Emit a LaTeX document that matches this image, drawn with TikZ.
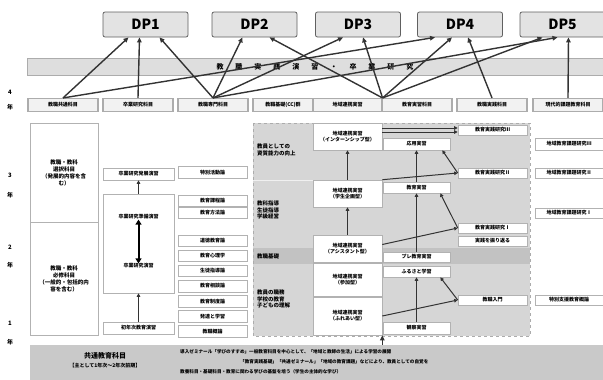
\documentclass[tikz,border=0pt]{standalone}
\usepackage{fontspec}
\setmainfont{Noto Sans CJK JP}
\usetikzlibrary{positioning,arrows.meta}

\begin{document}
\begin{tikzpicture}[x=1pt,y=-1pt,
	dpbox/.style={rectangle, rounded corners=2pt, draw=gray!75!black, fill=gray!22, line width=0.8pt, minimum width=85pt, minimum height=25pt, inner sep=0pt, font=\fontsize{14}{14}\selectfont\bfseries},
	hdbox/.style={rectangle, draw=gray!65, fill=gray!10, line width=1.1pt, minimum height=13pt, inner sep=0pt, font=\fontsize{5}{6}\selectfont\bfseries},
	wbox/.style={rectangle, draw=gray!60, fill=white, line width=0.6pt, minimum width=69pt, minimum height=11pt, inner sep=0pt, align=center, font=\fontsize{5}{6}\selectfont\bfseries},
	lbl/.style={inner sep=0pt, align=center, font=\fontsize{5.5}{6.5}\selectfont\bfseries},
	nen/.style={inner sep=0pt, font=\fontsize{6}{6}\selectfont\bfseries},
	up/.style={-{Triangle[length=5pt,width=4.5pt]}, line width=1.4pt, draw=black!80},
	upthin/.style={-{Triangle[length=3.5pt,width=3.5pt]}, line width=1pt, draw=black!80}]
	\useasboundingbox (0,0) rectangle (603,380);
	
	% shaded block
	\fill[gray!32] (253,123) rectangle (530,336);
	\fill[gray!48] (253,248) rectangle (530,264);
	\draw[gray!12, line width=1pt] (253,180) -- (313,180);
	\draw[dashed, gray!65] (253,123) rectangle (530,336);
	
	\node [rectangle, draw=gray!65, fill=gray!26, minimum width=576pt, minimum height=17pt, inner sep=0pt, font=\fontsize{7}{7}\selectfont\bfseries] (jissen) at (315,66.5)
	{教\hspace{12pt}職\hspace{12pt}実\hspace{12pt}践\hspace{12pt}演\hspace{12pt}習\hspace{12pt}・\hspace{12pt}卒\hspace{12pt}業\hspace{12pt}研\hspace{12pt}究};
	
	\node [dpbox] (dp1) at (145.5,24.5) {DP1};
	\node [dpbox] (dp2) at (254.5,24.5) {DP2};
	\node [dpbox] (dp3) at (358,24.5) {DP3};
	\node [dpbox] (dp4) at (460,24.5) {DP4};
	\node [dpbox] (dp5) at (562.5,24.5) {DP5};
	
	\node [hdbox, minimum width=70pt] (h1) at (63,105) {教職共通科目};
	\node [hdbox, minimum width=70pt] (h2) at (138,105) {卒業研究科目};
	\node [hdbox, minimum width=70pt] (h3) at (213,105) {教職専門科目};
	\node [hdbox, minimum width=60pt] (h4) at (283,105) {教職基礎(CC)群};
	\node [hdbox, minimum width=69pt] (h5) at (347.5,105) {地域連携実習};
	\node [hdbox, minimum width=70pt] (h6) at (417,105) {教育実習科目};
	\node [hdbox, minimum width=70pt] (h7) at (492,105) {教職実践科目};
	\node [hdbox, minimum width=70pt] (h8) at (568,105) {現代的課題教育科目};
	
	\node [nen] (y4a) at (10,92) {4};
	\node [nen] (y4b) at (10,107) {年};
	\node [nen] (y3a) at (10,175) {3};
	\node [nen] (y3b) at (10,195) {年};
	\node [nen] (y2a) at (10,247) {2};
	\node [nen] (y2b) at (10,265) {年};
	\node [nen] (y1a) at (10,323) {1};
	\node [nen] (y1b) at (10,342) {年};
	
	% left column
	\node [wbox, minimum width=68pt, minimum height=99pt, font=\fontsize{5.5}{7}\selectfont\bfseries] (l1) at (64,172.5) {教職・教科\\選択科目\\（発展的内容を含\\む）};
	\node [wbox, minimum width=68pt, minimum height=113pt, font=\fontsize{5.5}{7}\selectfont\bfseries] (l2) at (64,278.5) {教職・教科\\必修科目\\（一般的・包括的内\\容を含む）};
	
	\node [wbox, minimum width=71pt, minimum height=12pt] (c2a) at (138.5,174) {卒業研究発展演習};
	\node [wbox, minimum width=71pt, minimum height=99pt] (c2b) at (138.5,243.5) {};
	\node [lbl, font=\fontsize{5}{6}\selectfont\bfseries] (c2t) at (138.5,217) {卒業研究準備演習};
	\node [lbl, font=\fontsize{5}{6}\selectfont\bfseries] (c2u) at (138.5,266) {卒業研究演習};
	\node [wbox, minimum width=71pt, minimum height=12pt] (c2c) at (138.5,328) {初年次教育演習};
	\draw [upthin] (c2b) -- (c2a);
	\draw [upthin] (c2c) -- (c2b);
	\draw [{Triangle[length=5pt,width=6pt]}-{Triangle[length=5pt,width=6pt]}, line width=2pt] (c2t) -- (c2u);
	
	\node [wbox, minimum height=12pt] (c3a) at (212.5,172.5) {特別活動論};
	\node [wbox] (c3b) at (212.5,200.5) {教育課程論};
	\node [wbox, below=1pt of c3b] (c3c) {教育方法論};
	\node [wbox, minimum height=11.5pt] (c3d) at (212.5,240.75) {道徳教育論};
	\node [wbox, minimum height=11.5pt, below=3pt of c3d] (c3e) {教育心理学};
	\node [wbox, minimum height=11.5pt, below=3pt of c3e] (c3f) {生徒指導論};
	\node [wbox, minimum height=11.5pt, below=3pt of c3f] (c3g) {教育相談論};
	\node [wbox, minimum height=11.5pt, below=3pt of c3g] (c3h) {教育制度論};
	\node [wbox, minimum height=11.5pt, below=3pt of c3h] (c3i) {発達と学習};
	\node [wbox, minimum height=11.5pt, below=3pt of c3i] (c3j) {教職概論};
	
	% labels in shaded block
	\node [lbl, anchor=west, align=left] (s1) at (257,150) {教員としての\\資質能力の向上};
	\node [lbl, anchor=west, align=left] (s2) at (257,210) {教科指導\\生徒指導\\学級経営};
	\node [lbl, anchor=west] (s3) at (257,256) {教職基礎};
	\node [lbl, anchor=west, align=left] (s4) at (257,299) {教員の職務\\学校の教育\\子どもの理解};
	
	\node [wbox, minimum height=27pt] (r1) at (347.5,136.5) {地域連携実習\\（インターンシップ型）};
	\node [wbox, minimum height=27pt] (r2) at (347.5,193.5) {地域連携実習\\（学生企画型）};
	\node [wbox, minimum height=27pt] (r3) at (347.5,248.5) {地域連携実習\\（アシスタント型）};
	\node [wbox, minimum height=33pt] (r4) at (347.5,279.5) {地域連携実習\\（参加型）};
	\node [wbox, minimum height=38pt] (r5) at (347.5,316) {地域連携実習\\（ふれあい型）};
	
	\node [wbox, minimum width=67pt, minimum height=12pt] (e1) at (416.5,144) {応用実習};
	\node [wbox, minimum width=67pt] (e2) at (416.5,187.5) {教育実習};
	\node [wbox, minimum width=67pt, minimum height=10pt] (e3) at (416.5,257) {プレ教育実習};
	\node [wbox, minimum width=67pt] (e4) at (416.5,271.5) {ふるさと学習};
	\node [wbox, minimum width=67pt, minimum height=12pt] (e5) at (416.5,328) {観察実習};
	
	\node [wbox, minimum height=10pt] (p1) at (492.5,130) {教育実践研究Ⅲ};
	\node [wbox, minimum height=10pt] (p2) at (492.5,173) {教育実践研究Ⅱ};
	\node [wbox, minimum height=10pt] (p3) at (492.5,228) {教育実践研究Ⅰ};
	\node [wbox, minimum height=10pt] (p4) at (492.5,241) {実践を振り返る};
	\node [wbox, minimum height=10pt] (p5) at (492.5,300) {教職入門};
	
	\node [wbox, minimum width=68pt, minimum height=12pt] (q1) at (569,144) {地域教育課題研究Ⅲ};
	\node [wbox, minimum width=68pt, minimum height=10pt] (q2) at (569,173) {地域教育課題研究Ⅱ};
	\node [wbox, minimum width=68pt, minimum height=10pt] (q3) at (569,213) {地域教育課題研究Ⅰ};
	\node [wbox, minimum width=68pt, minimum height=10pt] (q4) at (569,300) {特別支援教育概論};
	
	\draw [upthin] (r2) -- (r1);
	\draw [upthin] (r3) -- (r2);
	\draw [upthin] (e2) -- (e1);
	\draw [upthin] (e3) -- (e2);
	\draw [upthin] (e5) -- (e4);
	\draw [upthin] ([yshift=2pt]p1.west -| r1.east) -- ([yshift=2pt]p1.west);
	\draw [upthin] ([yshift=-2pt]p1.west -| r1.east) -- ([yshift=-2pt]p1.west);
	\draw [upthin] (r2.north east) -- (p2.west);
	\draw [upthin] ([yshift=4pt]r3.east) -- (p3.west);
	\draw [upthin] (r5.east) -- (p5.west);
	\draw [upthin] (p2.west) -- ([xshift=-8pt]e1.south east);
	\draw [upthin] (p3.west) -- ([xshift=-10pt]e2.south east);
	\draw [upthin] (p5.west) -- ([xshift=-10pt]e4.south east);
	
	% common subjects
	\node [rectangle, fill=gray!42, minimum width=573pt, minimum height=35pt, inner sep=0pt] (kyotsu) at (316.5,362.5) {};
	\node [lbl, font=\fontsize{7}{7}\selectfont\bfseries] (kt1) at (105,356) {共通教育科目};
	\node [lbl, font=\fontsize{5}{5}\selectfont\bfseries] (kt2) at (105,366) {【主として1年次〜2年次前期】};
	\node [lbl, anchor=west, font=\fontsize{4.6}{5}\selectfont\bfseries] (kr1) at (180,352) {導入ゼミナール「学びのすすめ」一般教育科目を中心として、「地域と教師の生活」による学習の展開};
	\node [lbl, anchor=west, font=\fontsize{4.6}{5}\selectfont\bfseries] (kr2) at (240,362) {「教育実践基礎」「共通ゼミナール」「地域の教育課題」などにより、教員としての自覚を};
	\node [lbl, anchor=west, font=\fontsize{4.6}{5}\selectfont\bfseries] (kr3) at (180,372) {教養科目・基礎科目・教育に関わる学びの基盤を培う（学生の主体的な学び）};
	\draw [up] (kyotsu.north -| r5.south east) -- (r5.south east);
	
	% to the DPs
	\draw [up] (h1.north) -- ([xshift=-17pt]dp1.south);
	\draw [up] (h2.north) -- ([xshift=-6pt]dp1.south);
	\draw [up] (h3.north) -- ([xshift=14pt]dp1.south);
	\draw [up] (h3.north) -- ([xshift=-12pt]dp2.south);
	\draw [up] (h5.north east) -- ([xshift=15pt]dp2.south);
	\draw [up] (h3.north) -- ([xshift=-15pt]dp3.south);
	\draw [up] (h5.north east) -- ([xshift=5pt]dp3.south);
	\draw [up] (h1.north) -- ([xshift=-25pt]dp4.south);
	\draw [up] (h5.north east) -- ([xshift=-8pt]dp4.south);
	\draw [up] (h7.north) -- ([xshift=8pt]dp4.south);
	\draw [up] (h3.north) -- ([xshift=-5pt]dp5.south);
	\draw [up] (h5.north east) -- ([xshift=-20pt]dp5.south);
	\draw [up] (h8.north) -- ([xshift=6pt]dp5.south);
\end{tikzpicture}
\end{document}
